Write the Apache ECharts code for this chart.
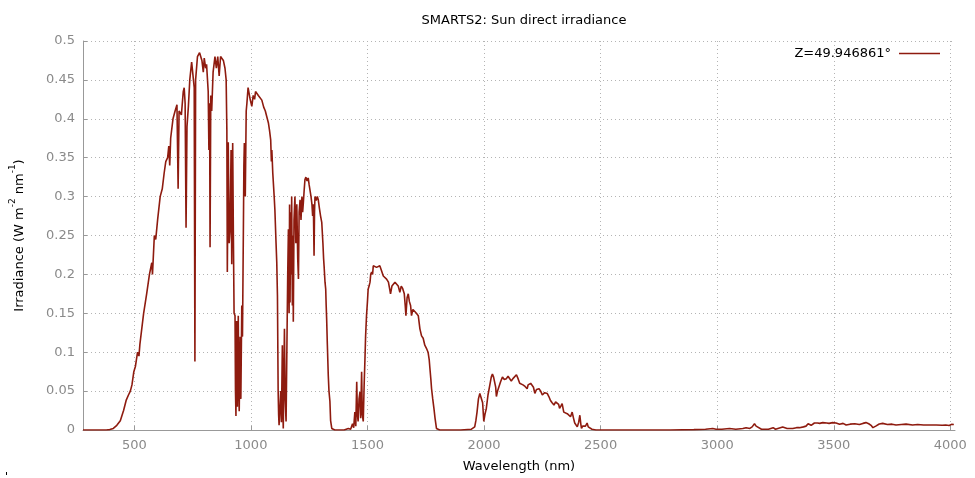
<!DOCTYPE html>
<html>
<head>
<meta charset="utf-8">
<script src="https://cdn.jsdelivr.net/npm/echarts@6/dist/echarts.min.js"></script>
<style>
html,body{margin:0;padding:0;background:#fff;}
#chart{width:975px;height:478px;}
</style>
</head>
<body>
<div id="chart"></div>
<script>
var chartTitle = "SMARTS2: Sun direct irradiance";
var seriesName = "Z=49.946861°";
var xTicks = [500, 1000, 1500, 2000, 2500, 3000, 3500, 4000];
var wavelength = [
280,300,350,380,395,410,425,432,440,454,465,475,483,490,498,505,514,520,524,540,553,565,575,578,586,592,600,611,620,628,635,643,648,652,656,666,675,683,688,692,702,710,714,718,722,726,732,738,746,752,757,760,763,771,780,785,790,796,800,806,810,817,820,823,825,828,832,838,846,852,858,864,870,875,882,889,894,897,899,903,907,911,915,918,922,925,928,932,934,936,939,942,946,948,950,954,957,961,964,968,970,972,976,980,983,988,993,997,1004,1010,1016,1020,1025,1032,1040,1047,1055,1062,1068,1075,1080,1085,1088,1090,1094,1100,1103,1108,1111,1114,1117,1119,1121,1125,1128,1131,1135,1137,1139,1141,1144,1147,1151,1155,1158,1161,1164,1166,1168,1171,1173,1175,1178,1180,1182,1185,1189,1193,1197,1201,1204,1207,1211,1215,1219,1222,1225,1229,1232,1236,1241,1246,1250,1254,1258,1262,1265,1268,1271,1273,1275,1280,1285,1289,1294,1299,1304,1309,1312,1314,1318,1321,1323,1325,1328,1332,1335,1339,1342,1347,1360,1400,1418,1428,1436,1441,1446,1450,1454,1457,1460,1464,1468,1471,1475,1478,1482,1486,1489,1492,1496,1500,1503,1507,1511,1514,1518,1522,1525,1532,1539,1546,1553,1560,1568,1575,1582,1590,1596,1599,1605,1611,1618,1625,1632,1639,1645,1651,1658,1662,1665,1670,1675,1680,1685,1689,1695,1703,1710,1718,1725,1732,1739,1746,1753,1760,1765,1768,1772,1775,1780,1785,1790,1796,1810,1900,1946,1960,1965,1970,1976,1982,1989,1994,1999,2004,2010,2017,2025,2031,2036,2041,2046,2050,2053,2058,2064,2071,2079,2087,2096,2103,2110,2117,2124,2131,2139,2146,2153,2160,2167,2176,2185,2189,2193,2200,2207,2212,2218,2225,2236,2243,2250,2260,2271,2278,2285,2292,2300,2307,2314,2320,2324,2330,2335,2342,2350,2357,2364,2371,2378,2384,2389,2395,2400,2406,2411,2415,2418,2423,2428,2435,2442,2447,2452,2463,2480,2600,2800,2900,2950,2981,2988,2995,3020,3053,3080,3110,3124,3140,3150,3160,3167,3174,3190,3220,3240,3250,3281,3300,3324,3340,3353,3370,3381,3390,3396,3403,3410,3417,3430,3440,3453,3470,3480,3495,3510,3525,3540,3553,3570,3590,3610,3625,3638,3650,3660,3668,3673,3680,3695,3710,3730,3750,3767,3790,3810,3838,3860,3885,3909,3940,3965,3980,3995,4005,4015
];
var irradiance = [
0,0,0,0,0.0005,0.002,0.006,0.008,0.012,0.025,0.038,0.045,0.05,0.058,0.075,0.082,0.1,0.095,0.11,0.15,0.175,0.2,0.215,0.2,0.25,0.245,0.27,0.3,0.31,0.33,0.345,0.35,0.365,0.34,0.375,0.4,0.41,0.418,0.31,0.41,0.405,0.435,0.44,0.42,0.26,0.39,0.416,0.45,0.473,0.475,0.44,0.088,0.45,0.48,0.485,0.487,0.475,0.46,0.478,0.465,0.47,0.435,0.36,0.42,0.235,0.43,0.41,0.46,0.48,0.465,0.48,0.455,0.48,0.482,0.475,0.465,0.45,0.386,0.203,0.37,0.24,0.258,0.36,0.213,0.369,0.25,0.15,0.147,0.05,0.018,0.14,0.03,0.147,0.06,0.024,0.12,0.04,0.16,0.12,0.262,0.34,0.369,0.3,0.41,0.42,0.44,0.44,0.425,0.416,0.43,0.425,0.435,0.437,0.43,0.428,0.424,0.415,0.41,0.403,0.395,0.385,0.373,0.345,0.36,0.33,0.3,0.283,0.24,0.216,0.173,0.05,0.02,0.006,0.006,0.05,0.01,0.109,0.03,0.002,0.06,0.13,0.04,0.011,0.12,0.2,0.258,0.15,0.29,0.164,0.28,0.2,0.3,0.16,0.25,0.139,0.27,0.3,0.24,0.29,0.22,0.194,0.28,0.296,0.27,0.3,0.28,0.292,0.31,0.322,0.325,0.32,0.324,0.315,0.313,0.3,0.29,0.275,0.29,0.224,0.28,0.3,0.295,0.3,0.296,0.285,0.275,0.267,0.24,0.22,0.211,0.19,0.181,0.16,0.143,0.11,0.07,0.05,0.037,0.012,0.002,0,0,0.002,0.001,0.008,0.003,0.023,0.005,0.062,0.02,0.011,0.04,0.049,0.015,0.075,0.02,0.011,0.06,0.088,0.12,0.147,0.165,0.181,0.185,0.19,0.2,0.203,0.2,0.211,0.21,0.209,0.21,0.211,0.205,0.198,0.2,0.194,0.19,0.18,0.175,0.185,0.185,0.19,0.192,0.185,0.177,0.185,0.182,0.175,0.16,0.147,0.17,0.175,0.165,0.16,0.147,0.155,0.156,0.15,0.147,0.13,0.121,0.118,0.109,0.105,0.1,0.09,0.079,0.065,0.053,0.04,0.028,0.015,0.002,0,0,0.001,0.004,0.012,0.023,0.04,0.047,0.049,0.035,0.011,0.02,0.028,0.045,0.058,0.068,0.072,0.068,0.066,0.055,0.043,0.05,0.051,0.062,0.068,0.065,0.066,0.069,0.068,0.063,0.066,0.068,0.071,0.066,0.06,0.059,0.058,0.056,0.053,0.058,0.058,0.06,0.058,0.055,0.047,0.052,0.053,0.05,0.045,0.048,0.047,0.043,0.038,0.035,0.032,0.036,0.038,0.033,0.028,0.031,0.034,0.023,0.024,0.021,0.02,0.017,0.023,0.015,0.009,0.008,0.004,0.01,0.019,0.008,0.002,0.005,0.006,0.005,0.009,0.004,0.002,0.001,0,0,0,0.0005,0.001,0.002,0.004,0.001,0.001,0.002,0.001,0.002,0.003,0.002,0.004,0.008,0.005,0.003,0.001,0.001,0.003,0.001,0.004,0.002,0.002,0.003,0.003,0.004,0.005,0.008,0.0086,0.006,0.0077,0.009,0.009,0.0085,0.0095,0.009,0.0085,0.0095,0.009,0.0075,0.0085,0.0064,0.0075,0.008,0.007,0.0085,0.0095,0.008,0.006,0.003,0.002,0.005,0.0077,0.0085,0.007,0.0075,0.0064,0.007,0.0075,0.0064,0.007,0.0065,0.0064,0.0065,0.0062,0.0064,0.0058,0.0072,0.007
];

var points = wavelength.map(function (w, i) { return [w, irradiance[i]]; });
var lineColor = '#8e1b0f';
var gridColor = '#b4b4b4';
var labelColor = '#8a8a8a';
var font = 'DejaVu Sans';

var chart = echarts.init(document.getElementById('chart'), null, {renderer: 'canvas'});
chart.setOption({
  animation: false,
  backgroundColor: '#fff',
  title: {
    text: chartTitle,
    left: 519, top: 9, textAlign: 'center',
    textStyle: {fontFamily: font, fontSize: 13, fontWeight: 'normal', color: '#000'}
  },
  legend: {
    right: 35, top: 47, padding: 0, align: 'right',
    itemWidth: 41, itemHeight: 14, itemGap: 8,
    textStyle: {fontFamily: font, fontSize: 13, color: '#000', padding: [0, 3, 0, 0]},
    data: [{name: seriesName, icon: 'path://M0,0 L41,0 L41,1.6 L0,1.6 Z'}]
  },
  grid: {left: 82, right: 20, top: 41, bottom: 46, containLabel: false},
  xAxis: {
    type: 'value', min: 280, max: 4020,
    name: 'Wavelength (nm)', nameLocation: 'middle', nameGap: 30,
    nameTextStyle: {fontFamily: font, fontSize: 13, color: '#000'},
    axisLine: {show: true, onZero: false, lineStyle: {color: '#999', width: 1}},
    axisTick: {show: true, inside: true, length: 4, customValues: xTicks, lineStyle: {color: '#999'}},
    axisLabel: {customValues: xTicks, fontFamily: font, fontSize: 13, color: labelColor, margin: 9,
      formatter: function (v) { return String(v); }},
    splitLine: {show: true, lineStyle: {color: gridColor, type: [1, 3], width: 1}}
  },
  yAxis: {
    type: 'value', min: 0, max: 0.5, interval: 0.05,
    name: '{n|Irradiance (W m}{s|-2}{n| nm}{s|-1}{n|)}', nameLocation: 'middle', nameGap: 57, nameRotate: 90,
    nameTextStyle: {
      fontFamily: font, fontSize: 13, color: '#000',
      rich: {
        n: {fontFamily: font, fontSize: 13, color: '#000', lineHeight: 18, verticalAlign: 'bottom'},
        s: {fontFamily: font, fontSize: 9, color: '#000', lineHeight: 18, verticalAlign: 'top'}
      }
    },
    axisLine: {show: true, lineStyle: {color: '#999', width: 1}},
    axisTick: {show: true, inside: true, length: 4, lineStyle: {color: '#999'}},
    axisLabel: {fontFamily: font, fontSize: 13, color: labelColor, margin: 8,
      formatter: function (v) { return String(Math.round(v * 100) / 100); }},
    splitLine: {show: true, lineStyle: {color: gridColor, type: [1, 3], width: 1}}
  },
  series: [{
    name: seriesName, type: 'line', data: points,
    symbol: 'none', showSymbol: false, sampling: 'none',
    lineStyle: {color: lineColor, width: 1.6},
    itemStyle: {color: lineColor}
  }],
  graphic: [{type: 'rect', left: 6, top: 472, shape: {width: 1, height: 3}, style: {fill: '#000'}}]
});
</script>
</body>
</html>
